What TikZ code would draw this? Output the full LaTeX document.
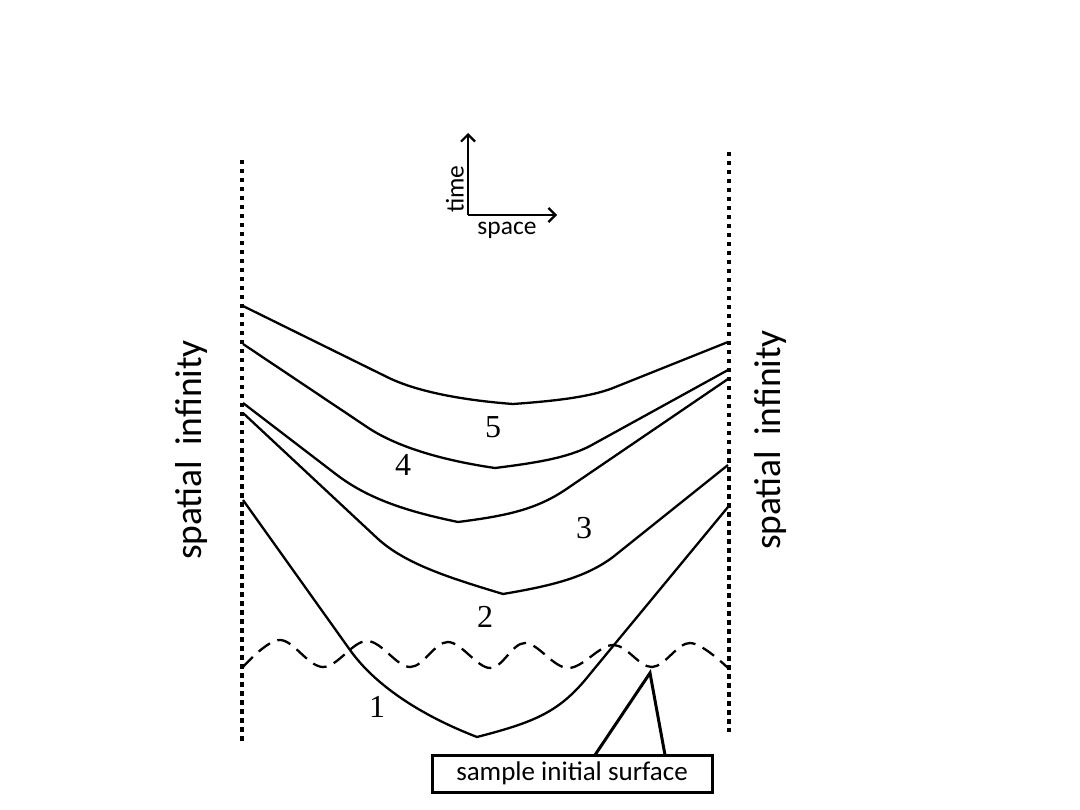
\documentclass[tikz,border=0pt]{standalone}
\usepackage{fontspec}
\setmainfont{Carlito}
\newfontfamily\numfont{Liberation Serif}
\usetikzlibrary{arrows.meta}
\begin{document}
\begin{tikzpicture}[x=1pt,y=-1pt,
  curve/.style={line width=2.3pt,line join=round},
  infline/.style={line width=4.5pt,dash pattern=on 4.5pt off 4.5pt},
  wave/.style={line width=2.3pt,dash pattern=on 14pt off 8pt},
  axis/.style={line width=2.2pt,-{Straight Barb[length=7pt,width=14pt,line width=2.2pt]}},
  lbl/.style={font=\numfont\fontsize{32}{34}\selectfont,inner sep=0pt},
  sidelbl/.style={font=\fontsize{37.5}{38}\selectfont,rotate=90,inner sep=0pt},
  axlbl/.style={font=\fontsize{25.5}{27}\selectfont,inner sep=0pt},
  callbox/.style={draw,line width=3pt,minimum width=280pt,minimum height=37pt,inner sep=0pt,font=\fontsize{27}{28}\selectfont}]
\useasboundingbox (0,0) rectangle (1080,810);
% spatial infinity boundaries
\coordinate (LT) at (242,160); \coordinate (LB) at (242,742);
\coordinate (RT) at (729,152); \coordinate (RB) at (729,732);
\draw[infline] (LT) -- (LB);
\draw[infline] (RT) -- (RB);
\node[sidelbl] (linf) at (192,450) {spatial\, infinity};
\node[sidelbl] (rinf) at (770,440) {spatial\, infinity};
% axes
\coordinate (O) at (468,215);
\coordinate (T) at (468,133);
\coordinate (S) at (557,215);
\draw[axis] (O) -- (T);
\draw[axis] (O) -- (S);
\node[axlbl,rotate=90] (timel) at (455,189) {time};
\node[axlbl] (spacel) at (507,230) {space};
% curve 5
\draw[curve] (243,306) -- (387,377) .. controls (415,391) and (460,400) .. (513,404)
  .. controls (555,401) and (590,397) .. (613,388) -- (728,342);
% curve 4
\draw[curve] (243,344) -- (367,427) .. controls (395,446) and (440,460) .. (495,468)
  .. controls (535,463) and (567,458) .. (590,446) -- (728,370);
% curve 3
\draw[curve] (243,403) -- (337,475) .. controls (370,500) and (410,512) .. (458,522)
  .. controls (505,516) and (535,510) .. (565,490) -- (728,379);
% curve 2
\draw[curve] (243,413) -- (377,538) .. controls (405,564) and (450,578) .. (503,594)
  .. controls (550,586) and (585,578) .. (613,557) -- (728,465);
% curve 1
\draw[curve] (243,500) -- (350,650) .. controls (375,685) and (420,715) .. (477,737)
  .. controls (535,722) and (560,712) .. (590,674) -- (728,507);
% sample initial surface (dashed wave)
\draw[wave] plot[smooth,tension=0.6] coordinates {(243,667) (280,640) (323,667) (367,641) (410,667) (448,642) (490,668) (525,643) (568,668) (613,645) (652,667) (690,643) (728,668)};
% labels
\node[lbl] (n5) at (493,427) {5};
\node[lbl] (n4) at (403,465) {4};
\node[lbl] (n3) at (584,528) {3};
\node[lbl] (n2) at (485,617) {2};
\node[lbl] (n1) at (377,707) {1};
% callout
\node[callbox] (call) at (572,773.5) {sample initial surface};
\coordinate (tip) at (650,673);
\draw[line width=3pt,line join=miter] (595,755) -- (tip) -- (665,755);
\end{tikzpicture}
\end{document}
